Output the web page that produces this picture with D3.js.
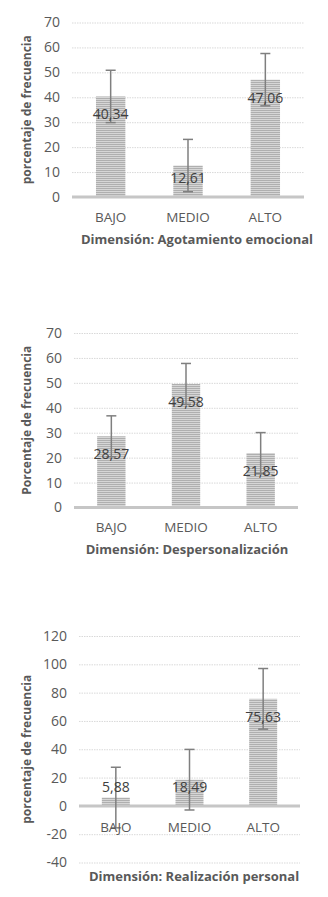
<!DOCTYPE html>
<html>
<head>
<meta charset="utf-8">
<script src="https://cdn.jsdelivr.net/npm/d3@7/dist/d3.min.js"></script>
<style>
  body { margin: 0; background: #fff; }
  svg { display: block; }
</style>
</head>
<body>
<div id="chart"></div>
<script>
const categories = ['BAJO', 'MEDIO', 'ALTO']

const agotamientoValues = [40.34, 12.61, 47.06]
const agotamientoError = [10.5, 10.5, 10.5]
const agotamientoTicks = [0, 10, 20, 30, 40, 50, 60, 70]

const despersonalizacionValues = [28.57, 49.58, 21.85]
const despersonalizacionError = [8.2, 8.2, 8.2]
const despersonalizacionTicks = [0, 10, 20, 30, 40, 50, 60, 70]

const realizacionValues = [5.88, 18.49, 75.63]
const realizacionError = [21.4, 21.4, 21.4]
const realizacionTicks = [-40, -20, 0, 20, 40, 60, 80, 100, 120]

const charts = [
  {
    values: agotamientoValues, errors: agotamientoError, ticks: agotamientoTicks,
    yTitle: 'porcentaje de frecuencia', xTitle: 'Dimensión: Agotamiento emocional',
    top: 22.5, bottom: 197, left: 72, right: 304, catY: 222, titleY: 244, titleX: 197, yTitleX: 31
  },
  {
    values: despersonalizacionValues, errors: despersonalizacionError, ticks: despersonalizacionTicks,
    yTitle: 'Porcentaje de frecuencia', xTitle: 'Dimensión: Despersonalización',
    top: 333, bottom: 507.5, left: 74, right: 298, catY: 532, titleY: 554, titleX: 187, yTitleX: 31
  },
  {
    values: realizacionValues, errors: realizacionError, ticks: realizacionTicks,
    yTitle: 'porcentaje de frecuencia', xTitle: 'Dimensión: Realización personal',
    top: 636, bottom: 862.5, left: 79, right: 300, catY: 832, titleY: 881, titleX: 194, yTitleX: 31
  }
]

const svg = d3.select('#chart')
  .append('svg')
  .attr('width', 328)
  .attr('height', 897)

// striped bar fill
const pattern = svg.append('defs')
  .append('pattern')
  .attr('id', 'stripes')
  .attr('patternUnits', 'userSpaceOnUse')
  .attr('width', 4)
  .attr('height', 2)
pattern.append('rect').attr('width', 4).attr('height', 2).attr('fill', '#d6d6d6')
pattern.append('rect').attr('width', 4).attr('height', 1).attr('fill', '#afafaf')

const font = 'Open Sans, Lato, sans-serif'

charts.forEach(c => {
  const g = svg.append('g')

  const y = d3.scaleLinear()
    .domain(d3.extent(c.ticks))
    .range([c.bottom, c.top])

  const x = d3.scaleBand()
    .domain(categories)
    .range([c.left, c.right])
    .paddingInner(0.62)
    .paddingOuter(0.31)

  // gridlines
  g.append('g')
    .attr('transform', 'translate(' + c.left + ',0)')
    .call(d3.axisLeft(y)
      .tickValues(c.ticks)
      .tickSize(-(c.right - c.left))
      .tickFormat(''))
    .call(a => a.select('.domain').remove())
    .call(a => a.selectAll('line')
      .attr('stroke', '#d9d9d9')
      .attr('stroke-dasharray', '1.5,1'))

  // tick labels
  g.append('g')
    .attr('transform', 'translate(' + (c.left - 12) + ',0)')
    .call(d3.axisLeft(y).tickValues(c.ticks).tickSize(0).tickPadding(0)
      .tickFormat(d => String(d)))
    .call(a => a.select('.domain').remove())
    .call(a => a.selectAll('text')
      .attr('fill', '#595959')
      .style('font-family', font)
      .style('font-size', '14px'))

  // bars
  g.selectAll('rect.bar')
    .data(c.values)
    .enter()
    .append('rect')
    .attr('class', 'bar')
    .attr('x', (d, i) => x(categories[i]))
    .attr('width', x.bandwidth())
    .attr('y', d => y(Math.max(0, d)))
    .attr('height', d => Math.abs(y(d) - y(0)))
    .attr('fill', 'url(#stripes)')

  // zero axis line
  g.append('line')
    .attr('x1', c.left)
    .attr('x2', c.right)
    .attr('y1', y(0))
    .attr('y2', y(0))
    .attr('stroke', '#c6c6c6')
    .attr('stroke-width', 3)

  // error bars
  const err = g.selectAll('g.err')
    .data(c.values)
    .enter()
    .append('g')
    .attr('stroke', '#7f7f7f')
    .attr('stroke-width', 1.5)
  err.append('line')
    .attr('x1', (d, i) => x(categories[i]) + x.bandwidth() / 2)
    .attr('x2', (d, i) => x(categories[i]) + x.bandwidth() / 2)
    .attr('y1', (d, i) => y(d + c.errors[i]))
    .attr('y2', (d, i) => y(d - c.errors[i]))
  err.append('line')
    .attr('x1', (d, i) => x(categories[i]) + x.bandwidth() / 2 - 5)
    .attr('x2', (d, i) => x(categories[i]) + x.bandwidth() / 2 + 5)
    .attr('y1', (d, i) => y(d + c.errors[i]))
    .attr('y2', (d, i) => y(d + c.errors[i]))
  err.append('line')
    .attr('x1', (d, i) => x(categories[i]) + x.bandwidth() / 2 - 5)
    .attr('x2', (d, i) => x(categories[i]) + x.bandwidth() / 2 + 5)
    .attr('y1', (d, i) => y(d - c.errors[i]))
    .attr('y2', (d, i) => y(d - c.errors[i]))

  // value labels
  g.selectAll('text.val')
    .data(c.values)
    .enter()
    .append('text')
    .attr('class', 'val')
    .attr('x', (d, i) => x(categories[i]) + x.bandwidth() / 2)
    .attr('y', d => Math.min(y(d) + 18, y(0) - 19))
    .attr('dy', '0.35em')
    .attr('text-anchor', 'middle')
    .attr('fill', '#404040')
    .style('font-family', font)
    .style('font-size', '14px')
    .text(d => d3.format('.2f')(d).replace('.', ','))

  // category labels
  g.selectAll('text.cat')
    .data(categories)
    .enter()
    .append('text')
    .attr('class', 'cat')
    .attr('x', d => x(d) + x.bandwidth() / 2)
    .attr('y', c.catY)
    .attr('text-anchor', 'middle')
    .attr('fill', '#595959')
    .style('font-family', font)
    .style('font-size', '13.5px')
    .text(d => d)

  // axis titles
  g.append('text')
    .attr('x', c.titleX)
    .attr('y', c.titleY)
    .attr('text-anchor', 'middle')
    .attr('fill', '#595959')
    .style('font-family', font)
    .style('font-weight', 'bold')
    .style('font-size', '13px')
    .text(c.xTitle)

  g.append('text')
    .attr('transform', 'translate(' + c.yTitleX + ',' + ((c.top + c.bottom) / 2) + ') rotate(-90)')
    .attr('text-anchor', 'middle')
    .attr('fill', '#595959')
    .style('font-family', font)
    .style('font-weight', 'bold')
    .style('font-size', '12px')
    .text(c.yTitle)
})
</script>
</body>
</html>
